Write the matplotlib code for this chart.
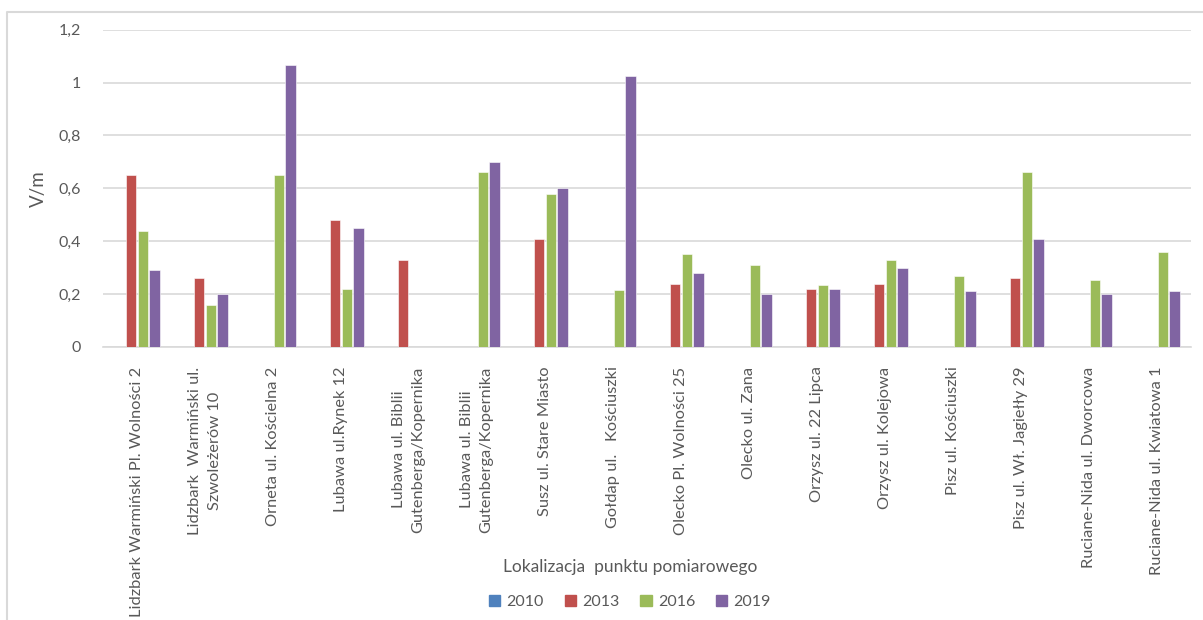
import matplotlib.pyplot as plt
import numpy as np
from matplotlib.lines import Line2D
from matplotlib.patches import Rectangle

plt.rcParams['font.family'] = ['Lato', 'DejaVu Sans']

locations = [
    'Lidzbark Warmiński Pl. Wolności 2',
    'Lidzbark  Warmiński ul.\nSzwoleżerów 10',
    'Orneta ul. Kościelna 2',
    'Lubawa ul.Rynek 12',
    'Lubawa ul. Biblii\nGutenberga/Kopernika',
    'Lubawa ul. Biblii\nGutenberga/Kopernika',
    'Susz ul. Stare Miasto',
    'Gołdap ul.   Kościuszki',
    'Olecko Pl. Wolności 25',
    'Olecko ul. Zana',
    'Orzysz ul. 22 Lipca',
    'Orzysz ul. Kolejowa',
    'Pisz ul. Kościuszki',
    'Pisz ul. Wł. Jagiełły 29',
    'Ruciane-Nida ul. Dworcowa',
    'Ruciane-Nida ul. Kwiatowa 1',
]
years = ['2010', '2013', '2016', '2019']
v2010 = [0] * 16
v2013 = [0.65, 0.26, 0, 0.48, 0.33, 0, 0.41, 0, 0.24, 0, 0.22, 0.24, 0, 0.26, 0, 0]
v2016 = [0.44, 0.16, 0.65, 0.22, 0, 0.66, 0.58, 0.215, 0.35, 0.31, 0.235, 0.33, 0.27, 0.66, 0.255, 0.36]
v2019 = [0.29, 0.20, 1.065, 0.45, 0, 0.70, 0.60, 1.025, 0.28, 0.20, 0.22, 0.30, 0.21, 0.41, 0.20, 0.21]
colors = ['#4F81BD', '#C0504D', '#9BBB59', '#8064A2']

fig = plt.figure(figsize=(12.03, 6.2), dpi=100)
# outer chart border (only top and left edges fall inside the picture)
fig.lines.append(Line2D([7 / 1203, 7 / 1203, 1.0], [0.0, 1 - 12 / 620, 1 - 12 / 620],
                        transform=fig.transFigure, color='#D9D9D9', linewidth=1.5))
ax = fig.add_axes([103 / 1203, 1 - 347 / 620, 1088 / 1203, (347 - 29.6) / 620])

x = np.arange(len(locations))
w = 0.155
step = 0.17
for i, (yr, vals) in enumerate(zip(years, [v2010, v2013, v2016, v2019])):
    ax.bar(x + (i - 1.5) * step, vals, width=w, color=colors[i], label=yr,
           edgecolor='white', linewidth=0.4, zorder=3)

ax.set_xlim(-0.5, len(locations) - 0.5)
ax.set_ylim(0, 1.2)
ax.set_yticks(np.arange(0, 1.21, 0.2))
ax.set_yticklabels(['0', '0,2', '0,4', '0,6', '0,8', '1', '1,2'])
ax.yaxis.grid(True, color='#D9D9D9', linewidth=1.2, zorder=0)
for s in ['top', 'right', 'left']:
    ax.spines[s].set_visible(False)
ax.spines['bottom'].set_color('#D9D9D9')
ax.spines['bottom'].set_linewidth(1.2)
ax.tick_params(length=0, colors='#595959', labelsize=11.5)
ax.tick_params(axis='y', pad=16)
ax.set_xticks(x)
ax.set_xticklabels(locations, rotation=90, ha='center', va='top',
                   multialignment='center', fontsize=11.8, linespacing=1.5)
ax.tick_params(axis='x', pad=14)

ax.set_ylabel('V/m', color='#595959', fontsize=13.5, labelpad=8)
fig.text(630 / 1203, 1 - 567 / 620, 'Lokalizacja  punktu pomiarowego',
         ha='center', va='center', color='#595959', fontsize=12.5)

handles = [Rectangle((0, 0), 1, 1, color=c) for c in colors]
fig.legend(handles, years, loc='center', bbox_to_anchor=(630 / 1203, 1 - 602 / 620),
           ncol=4, frameon=False, fontsize=11.5, labelcolor='#595959',
           handlelength=0.7, handleheight=0.7, handletextpad=0.4, columnspacing=1.3)

fig.savefig('out.png', dpi=100)
